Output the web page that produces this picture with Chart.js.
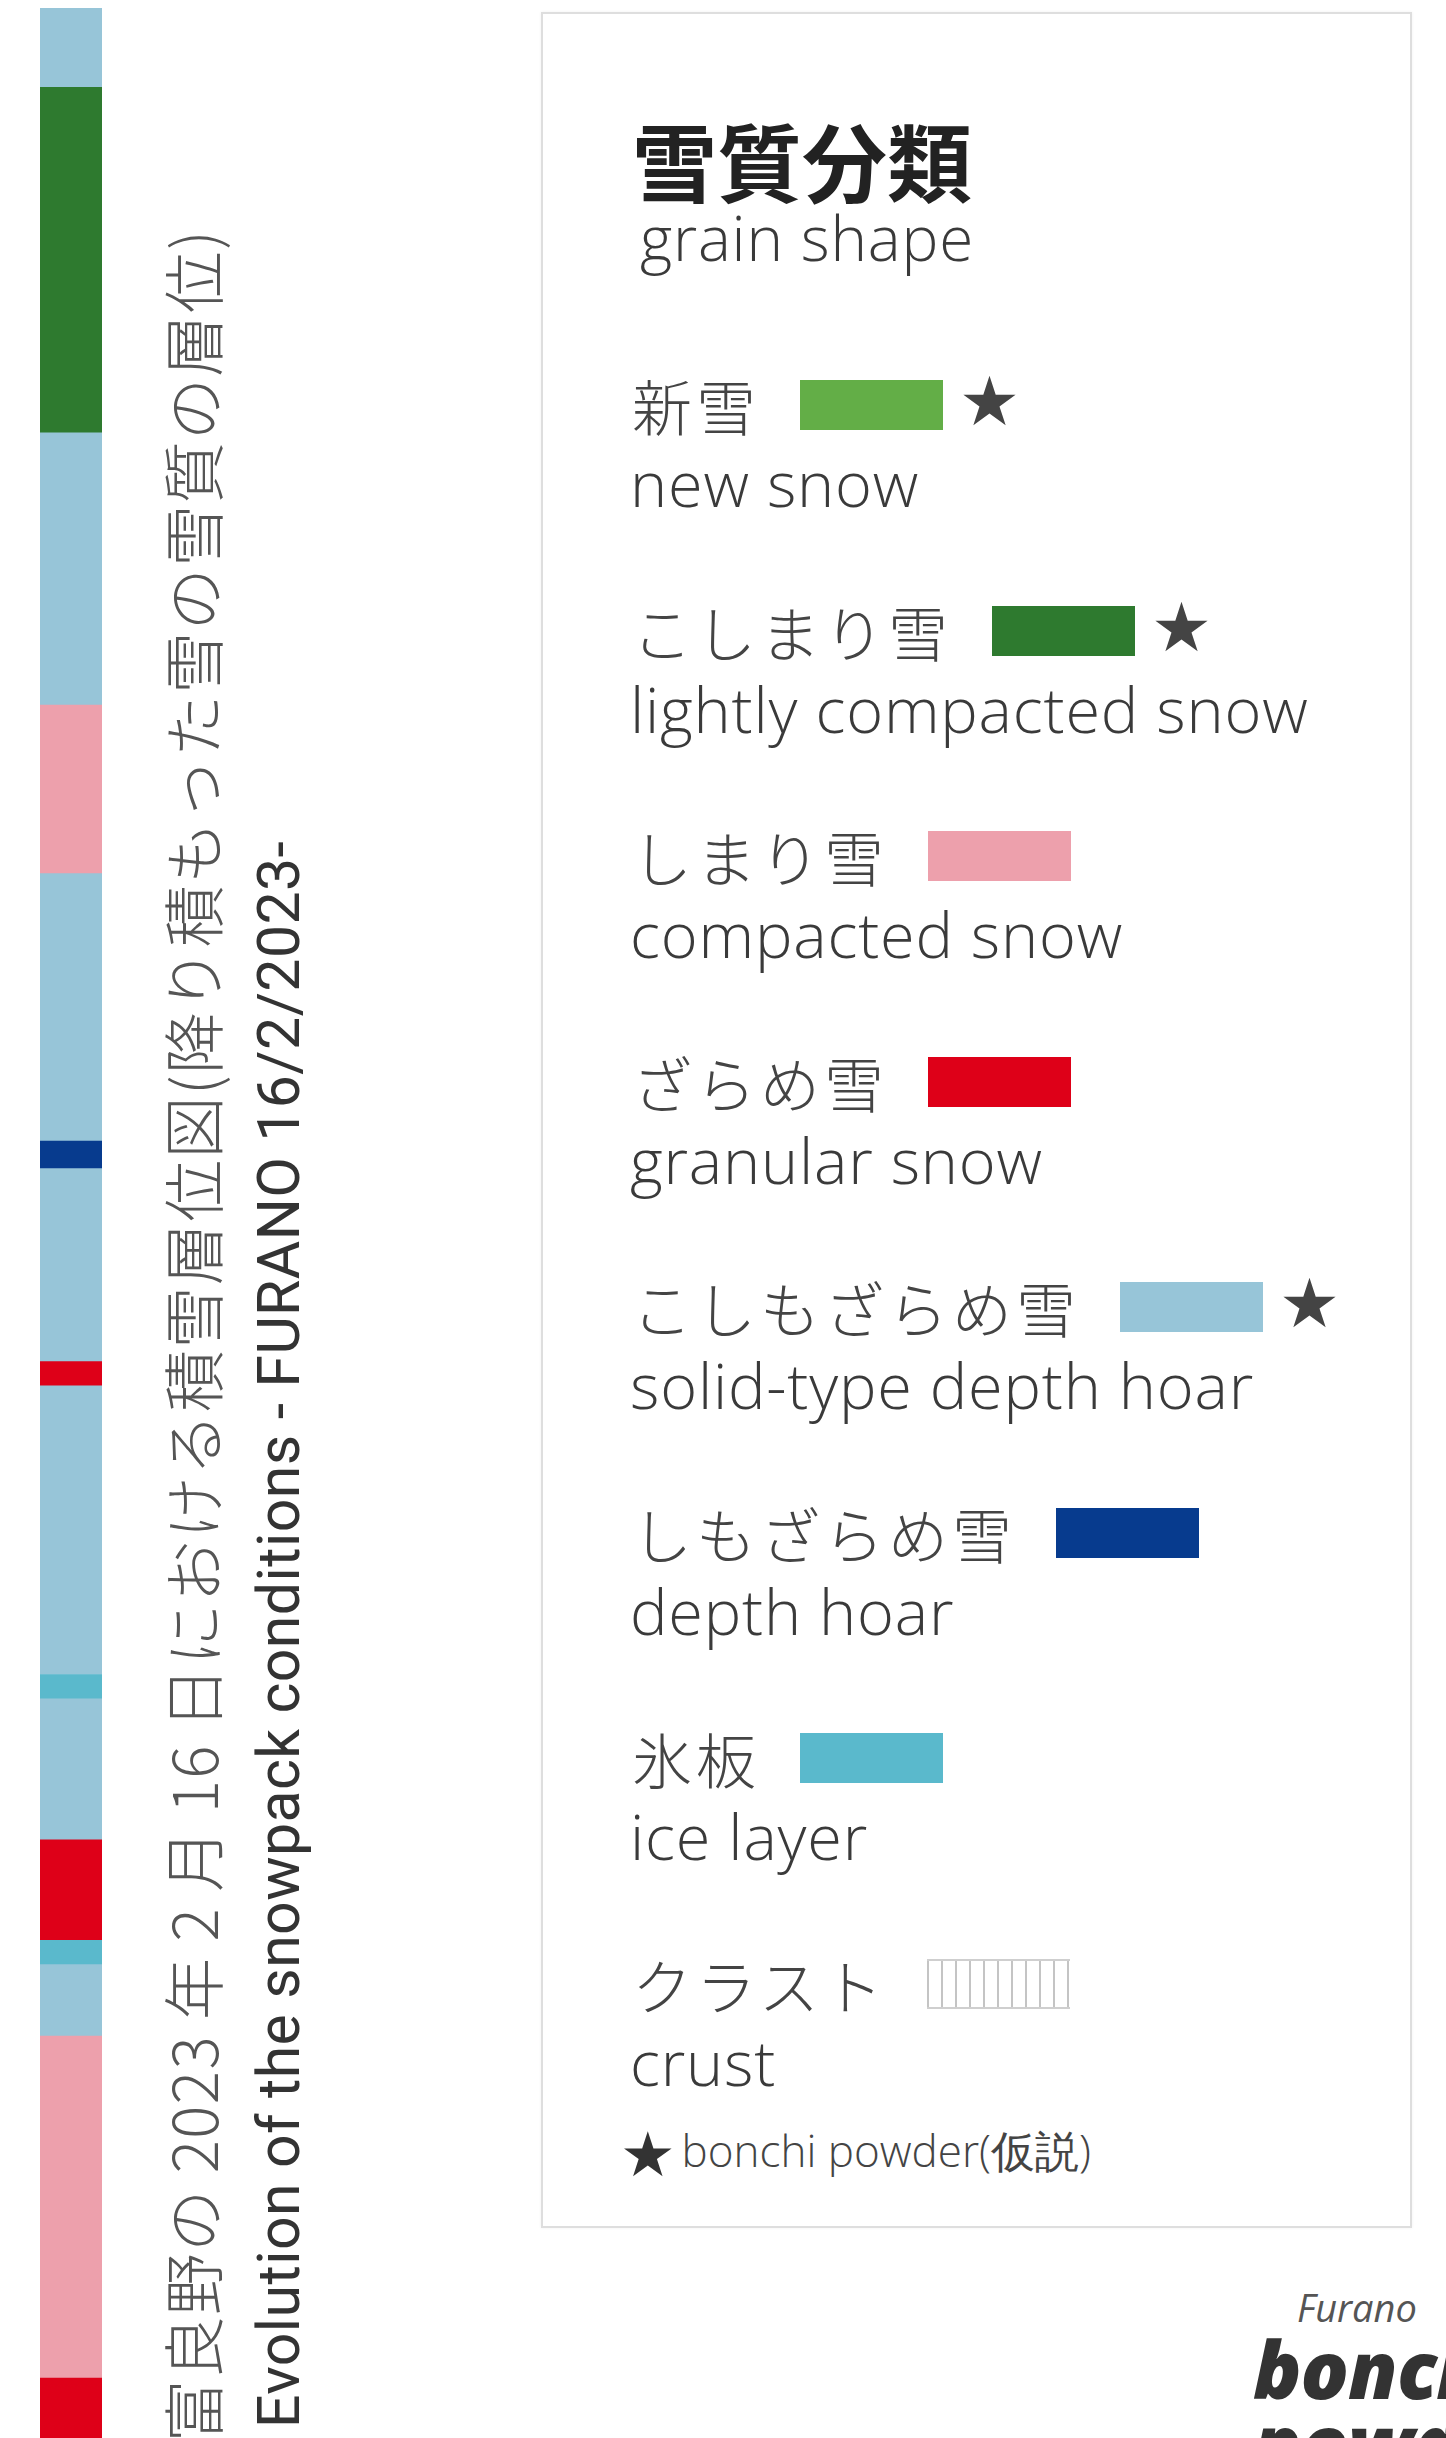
<!DOCTYPE html>
<html>
<head>
<meta charset="utf-8">
<script src="https://cdn.jsdelivr.net/npm/chart.js@4.4.0/dist/chart.umd.min.js"></script>
<style>
  html, body { margin: 0; padding: 0; background: #fff; }
  body { width: 1446px; height: 2438px; position: relative; overflow: hidden; }
  #strip { position: absolute; left: 40px; top: 8px; width: 62px; height: 2430px; }
  .vtext { position: absolute; white-space: nowrap; transform: rotate(-90deg); transform-origin: left top; line-height: 1; }
  #titleJa { left: 160px; top: 2442px; font-family: "Noto Sans CJK JP"; font-weight: 300; font-size: 62px; letter-spacing: 1.4px; color: #555; }
  #titleEn { left: 249px; top: 2428px; font-family: Roboto; font-size: 59px; letter-spacing: 0.4px; color: #333; }
  #legendBox { position: absolute; left: 541px; top: 12px; width: 867px; height: 2212px; border: 2px solid #dedede; box-shadow: 0 0 3px rgba(0,0,0,0.06); }
  .lg { position: absolute; white-space: nowrap; line-height: 1; }
  .ja { font-family: "Noto Sans CJK JP"; font-weight: 300; font-size: 60px; color: #444; letter-spacing: 4px; }
  .en { font-family: "Open Sans"; font-weight: 300; font-size: 63px; letter-spacing: 0.8px; color: #3a3a3a; }
  .row { display: flex; align-items: center; height: 60px; }
  .sw { width: 143px; height: 50px; margin-left: 40px; flex: none; }
  .star { font-family: "DejaVu Sans"; font-size: 68px; color: #444; margin-left: 16px; line-height: 1; position: relative; top: -3px; }
  .crust { box-sizing: border-box; border-top: 2px solid #cfcfcf; border-bottom: 2px solid #cfcfcf;
    background: repeating-linear-gradient(90deg, #c4c4c4 0 2px, #fff 2px 14px); }
  #logo { position: absolute; left: 1253px; top: 2288px; color: #333; font-family: "Open Sans"; font-style: italic; line-height: 1; }
</style>
</head>
<body>
<div id="strip"><canvas id="snowChart"></canvas></div>
<div class="vtext" id="titleJa">富良野の 2023 年 2 月 16 日における積雪層位図(降り積もった雪の雪質の層位)</div>
<div class="vtext" id="titleEn">Evolution of the snowpack conditions - FURANO 16/2/2023-</div>
<div id="legendBox"></div>
<div id="legend"></div>
<div id="logo">
  <div style="margin-left:44px;font-size:38px;font-weight:400;color:#555;">Furano</div>
  <div style="font-size:80px;font-weight:800;margin-top:2px;letter-spacing:-1px;">bonchi</div>
  <div style="font-size:80px;font-weight:800;margin-top:-6px;letter-spacing:-1px;">powder</div>
</div>
<script>
// grain shape categories (legend)
const grainJa = ['新雪', 'こしまり雪', 'しまり雪', 'ざらめ雪', 'こしもざらめ雪', 'しもざらめ雪', '氷板', 'クラスト'];
const grainEn = ['new snow', 'lightly compacted snow', 'compacted snow', 'granular snow', 'solid-type depth hoar', 'depth hoar', 'ice layer', 'crust'];
const bonchiPowder = [true, true, false, false, true, false, false, false];

// snowpack layers, from the ground up (thickness in cm)
const layerGrain = ['ざらめ雪', 'しまり雪', 'こしもざらめ雪', '氷板', 'ざらめ雪', 'こしもざらめ雪', '氷板', 'こしもざらめ雪',
  'ざらめ雪', 'こしもざらめ雪', 'しもざらめ雪', 'こしもざらめ雪', 'しまり雪', 'こしもざらめ雪', 'こしまり雪', 'こしもざらめ雪'];
const layerThickness = [3.7, 21.1, 4.4, 1.5, 6.2, 8.7, 1.5, 17.8, 1.5, 11.9, 1.7, 16.5, 10.4, 16.8, 21.3, 4.9];

// colours per grain shape
const grainColors = {
  '新雪': '#63ae47', 'こしまり雪': '#2e7a2f', 'しまり雪': '#eda0ac', 'ざらめ雪': '#de0018',
  'こしもざらめ雪': '#97c5d8', 'しもざらめ雪': '#073b8e', '氷板': '#5ab9cc', 'クラスト': '#ffffff'
};

const totalDepth = layerThickness.reduce((a, b) => a + b, 0);

const datasets = layerGrain.map((g, i) => ({
  label: g,
  data: [layerThickness[i]],
  backgroundColor: grainColors[g],
  borderWidth: 0,
  barPercentage: 1,
  categoryPercentage: 1
}));

new Chart(document.getElementById('snowChart'), {
  type: 'bar',
  data: { labels: ['FURANO'], datasets: datasets },
  options: {
    responsive: true,
    maintainAspectRatio: false,
    animation: false,
    layout: { padding: 0 },
    plugins: { legend: { display: false }, tooltip: { enabled: false } },
    scales: {
      x: { stacked: true, display: false },
      y: { stacked: true, display: false, min: 0, max: totalDepth }
    }
  }
});

// legend
const legend = document.getElementById('legend');
function addDiv(cls, left, top, html, style) {
  const d = document.createElement('div');
  d.className = cls;
  d.style.left = left + 'px';
  d.style.top = top + 'px';
  if (style) d.style.cssText += style;
  d.innerHTML = html;
  legend.appendChild(d);
  return d;
}
addDiv('lg', 632, 116, '雪質分類', 'font-family:"Noto Sans CJK JP";font-weight:700;font-size:85px;color:#222;');
addDiv('lg en', 640, 206, 'grain shape', 'font-size:62px;');

grainJa.forEach((g, i) => {
  const cy = 407 + i * 225.5;
  const sw = g === 'クラスト' ? '<span class="sw crust"></span>'
    : '<span class="sw" style="background:' + grainColors[g] + '"></span>';
  const star = bonchiPowder[i] ? '<span class="star">★</span>' : '';
  addDiv('lg row', 632, cy - 32, '<span class="ja">' + g + '</span>' + sw + star);
  addDiv('lg en', 630, 507 + i * 225.5 - 56, grainEn[i]);
});
addDiv('lg', 620, 2124, '<span style="font-family:\'DejaVu Sans\';font-size:62px;color:#333;">★</span>' +
  '<span style="font-family:\'Open Sans\';font-weight:300;font-size:44px;color:#444;position:relative;top:-9px;margin-left:6px;">bonchi powder(仮説)</span>');
</script>
</body>
</html>
